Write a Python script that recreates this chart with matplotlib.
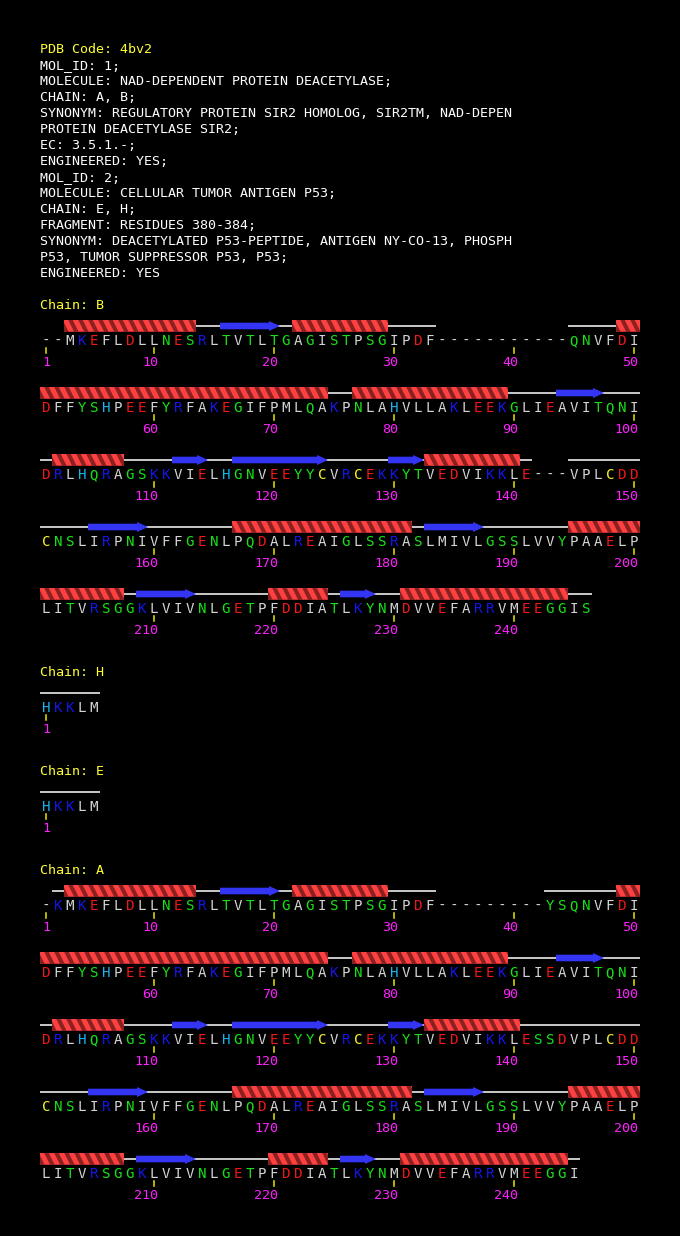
import matplotlib
matplotlib.use("Agg")
import matplotlib.pyplot as plt
from matplotlib.patches import Rectangle, Polygon
from matplotlib.collections import PolyCollection

# ── Data ─────────────────────────────────────────────────────────────────────
header_title = "PDB Code: 4bv2"
header_lines = [
    "MOL_ID: 1;",
    "MOLECULE: NAD-DEPENDENT PROTEIN DEACETYLASE;",
    "CHAIN: A, B;",
    "SYNONYM: REGULATORY PROTEIN SIR2 HOMOLOG, SIR2TM, NAD-DEPEN",
    "PROTEIN DEACETYLASE SIR2;",
    "EC: 3.5.1.-;",
    "ENGINEERED: YES;",
    "MOL_ID: 2;",
    "MOLECULE: CELLULAR TUMOR ANTIGEN P53;",
    "CHAIN: E, H;",
    "FRAGMENT: RESIDUES 380-384;",
    "SYNONYM: DEACETYLATED P53-PEPTIDE, ANTIGEN NY-CO-13, PHOSPH",
    "P53, TUMOR SUPPRESSOR P53, P53;",
    "ENGINEERED: YES",
]

chain_order = ["B", "H", "E", "A"]

seq_B = ("--MKEFLDLLNESRLTVTLTGAGISTPSGIPDF-----------QNVFDI"
         "DFFYSHPEEFYRFAKEGIFPMLQAKPNLAHVLLAKLEEKGLIEAVITQNI"
         "DRLHQRAGSKKVIELHGNVEEYYCVRCEKKYTVEDVIKKLE---VPLCDD"
         "CNSLIRPNIVFFGENLPQDALREAIGLSSRASLMIVLGSSLVVYPAAELP"
         "LITVRSGGKLVIVNLGETPFDDIATLKYNMDVVEFARRVMEEGGIS")
seq_A = ("-KMKEFLDLLNESRLTVTLTGAGISTPSGIPDF---------YSQNVFDI"
         "DFFYSHPEEFYRFAKEGIFPMLQAKPNLAHVLLAKLEEKGLIEAVITQNI"
         "DRLHQRAGSKKVIELHGNVEEYYCVRCEKKYTVEDVIKKLESSDVPLCDD"
         "CNSLIRPNIVFFGENLPQDALREAIGLSSRASLMIVLGSSLVVYPAAELP"
         "LITVRSGGKLVIVNLGETPFDDIATLKYNMDVVEFARRVMEEGGI")
seq_H = "HKKLM"
seq_E = "HKKLM"

# secondary structure, residue index ranges (1-based, inclusive)
helix_AB = [(3, 13), (22, 29), (49, 74), (77, 89), (102, 107), (133, 140),
            (167, 181), (195, 207), (220, 224), (231, 244)]
strand_AB = [(16, 20), (94, 97), (112, 114), (117, 124), (130, 132),
             (155, 159), (183, 187), (209, 213), (226, 228)]

chains = {
    "B": (seq_B, helix_AB, strand_AB),
    "H": (seq_H, [], []),
    "E": (seq_E, [], []),
    "A": (seq_A, helix_AB, strand_AB),
}

# residue colour groups
res_colors = {}
for aa in "AFILMPVW-":
    res_colors[aa] = "#d4d4d4"
for aa in "KR":
    res_colors[aa] = "#1515e6"
for aa in "DE":
    res_colors[aa] = "#f01818"
for aa in "GNQSTY":
    res_colors[aa] = "#18e018"
res_colors["H"] = "#18b4f0"
res_colors["C"] = "#f0f020"

# ── Layout ───────────────────────────────────────────────────────────────────
PER_ROW = 50
CW = 12          # residue cell width (px)
X0 = 40          # left edge of first cell
ROW_STEP = 67
FS = 9.6
FS_RES = 10.2
MONO = "DejaVu Sans Mono"
YELLOW = "#ffff30"
MAGENTA = "#ff20ff"
HELIX_LIGHT = "#ff4040"
HELIX_DARK = "#8a2020"
STRAND = "#3434f4"

fig = plt.figure(figsize=(6.8, 12.36), dpi=100)
fig.patch.set_facecolor("black")
ax = fig.add_axes([0, 0, 1, 1])
ax.set_facecolor("black")
ax.set_xlim(0, 680)
ax.set_ylim(1236, 0)
ax.axis("off")


def draw_helix(xl, xr, ry):
    top, bot = ry - 25.5, ry - 13.5
    base = Rectangle((xl, top), xr - xl, bot - top, facecolor=HELIX_DARK,
                     edgecolor="none", zorder=2)
    ax.add_patch(base)
    polys = []
    slant, width, period = 6, 5.5, 10
    k = xl - slant - width
    while k < xr:
        polys.append([(k, top), (k + width, top),
                      (k + width + slant, bot), (k + slant, bot)])
        k += period
    pc = PolyCollection(polys, facecolors=HELIX_LIGHT, edgecolors="none", zorder=3)
    ax.add_collection(pc)
    pc.set_clip_path(base)


def draw_strand(xl, xr, ry, head):
    hl = 11 if head else 0
    pts = [(xl, ry - 22.3), (xr - hl, ry - 22.3)]
    if head:
        pts += [(xr - hl, ry - 24), (xr, ry - 19), (xr - hl, ry - 14)]
    else:
        pts += [(xr, ry - 22.3), (xr, ry - 15.7)]
    pts += [(xr - hl, ry - 15.7), (xl, ry - 15.7)]
    ax.add_patch(Polygon(pts, closed=True, facecolor=STRAND, edgecolor="none", zorder=3))


def draw_chain(name, y_label):
    seq, helices, strands = chains[name]
    ax.text(X0, y_label, f"Chain: {name}", color=YELLOW, fontsize=FS,
            family=MONO, ha="left", va="baseline")
    ry = y_label + 36
    n_rows = (len(seq) + PER_ROW - 1) // PER_ROW
    for r in range(n_rows):
        start = r * PER_ROW + 1
        end = min((r + 1) * PER_ROW, len(seq))
        # coil line under every run of non-gap residues
        run_start = None
        for p in range(start, end + 2):
            ch = seq[p - 1] if p <= end else "-"
            if ch != "-" and run_start is None:
                run_start = p
            elif ch == "-" and run_start is not None:
                xl = X0 + CW * (run_start - start)
                xr = X0 + CW * (p - start)
                ax.plot([xl, xr], [ry - 19, ry - 19], color="white", lw=1.1,
                        solid_capstyle="butt", zorder=1)
                run_start = None
        for s, e in helices:
            s_r, e_r = max(s, start), min(e, end)
            if s_r <= e_r:
                draw_helix(X0 + CW * (s_r - start), X0 + CW * (e_r - start + 1), ry)
        for s, e in strands:
            s_r, e_r = max(s, start), min(e, end)
            if s_r <= e_r:
                draw_strand(X0 + CW * (s_r - start), X0 + CW * (e_r - start + 1),
                            ry, head=(e_r == e))
        # residues, ticks and numbers
        for p in range(start, end + 1):
            ch = seq[p - 1]
            xc = X0 + CW * (p - start) + CW / 2
            ax.text(xc, ry, ch, color=res_colors.get(ch, "#d4d4d4"), fontsize=FS_RES,
                    family=MONO, ha="center", va="baseline")
            if p == 1 or p % 10 == 0:
                ax.plot([xc, xc], [ry + 3, ry + 8], color="#e8e800", lw=1.1, zorder=1)
                ax.text(xc + 4, ry + 21, str(p), color=MAGENTA, fontsize=FS,
                        family=MONO, ha="right", va="baseline")
        if r < n_rows - 1:
            ry += ROW_STEP
    return ry


# ── Header ───────────────────────────────────────────────────────────────────
y = 53
ax.text(X0, y, header_title, color=YELLOW, fontsize=FS, family=MONO,
        ha="left", va="baseline")
for line in header_lines:
    y += 16
    ax.text(X0, y, line, color="white", fontsize=FS, family=MONO,
            ha="left", va="baseline")

# ── Chains ───────────────────────────────────────────────────────────────────
y_label = y + 32
for name in chain_order:
    last_row = draw_chain(name, y_label)
    y_label = last_row + 63

fig.savefig("out.png", dpi=100, facecolor="black")
